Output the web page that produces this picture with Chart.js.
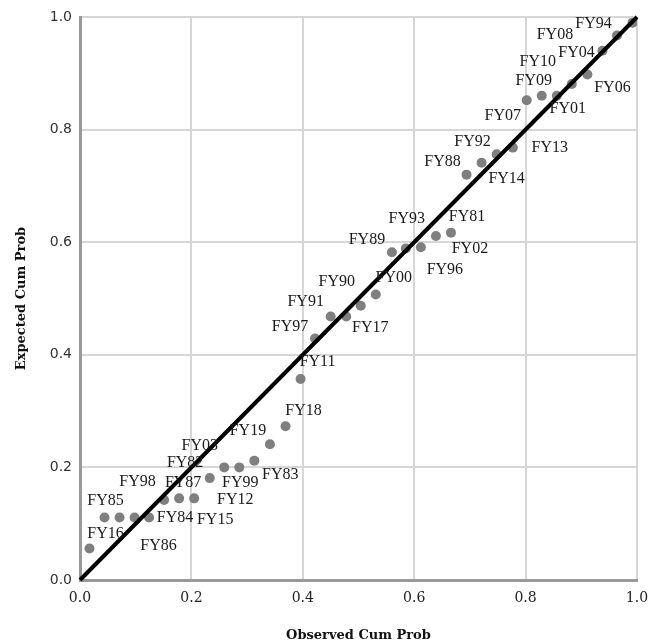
<!DOCTYPE html>
<html>
<head>
<meta charset="utf-8">
<script src="https://cdn.jsdelivr.net/npm/chart.js@4/dist/chart.umd.min.js"></script>
<style>
  html, body { margin: 0; padding: 0; background: #fff; }
  #wrap { width: 655px; height: 644px; }
</style>
</head>
<body>
<div id="wrap"><canvas id="ppChart" width="655" height="644"></canvas></div>
<script>
// P-P plot data
const yearLabels = ['FY16','FY85','FY98','FY86','FY84','FY87','FY82','FY15','FY03','FY12','FY99','FY83','FY19',
  'FY18','FY11','FY97','FY91','FY17','FY90','FY00','FY89','FY93','FY96','FY02','FY81','FY88','FY92','FY14',
  'FY13','FY07','FY09','FY01','FY10','FY06','FY04','FY08','FY94'];
const observed = [0.017,0.044,0.071,0.098,0.124,0.151,0.178,0.205,0.233,0.259,0.286,0.313,0.341,
  0.369,0.396,0.422,0.450,0.478,0.504,0.531,0.560,0.585,0.612,0.639,0.666,0.694,0.721,0.748,
  0.777,0.802,0.829,0.856,0.883,0.911,0.938,0.964,0.992];
const expected = [0.056,0.111,0.111,0.111,0.111,0.142,0.145,0.145,0.181,0.200,0.200,0.212,0.241,
  0.273,0.357,0.429,0.468,0.468,0.487,0.507,0.582,0.589,0.591,0.611,0.617,0.720,0.741,0.756,
  0.768,0.852,0.860,0.860,0.881,0.898,0.940,0.967,0.990];
const axisTicks = [0, 0.2, 0.4, 0.6, 0.8, 1.0];

// label nudges in px (label placement only, relative to each point)
const labelNudge = [[16,-15],[1,-17],[18,-36],[24,28],[26,0],[19,-17],[6,-36],[21,21],[-10,-32],[11,32],
  [1,15],[26,14],[-22,-14],[18,-16],[17,-17],[-25,-12],[-25,-15],[24,11],[-24,-24],[18,-17],
  [-25,-13],[1,-30],[24,23],[34,13],[16,-16],[-24,-13],[-9,-21],[10,24],[37,0],[-24,15],
  [-8,-15],[11,13],[-34,-22],[25,13],[-26,2],[-62,-1],[-39,1]];

const points = observed.map((v, i) => ({ x: v, y: expected[i] }));

const pointLabels = {
  id: 'pointLabels',
  afterDatasetsDraw(chart) {
    const ctx = chart.ctx;
    const meta = chart.getDatasetMeta(1);
    ctx.save();
    ctx.font = '16px "Liberation Serif", "Times New Roman", serif';
    ctx.fillStyle = '#1a1a1a';
    ctx.textAlign = 'center';
    ctx.textBaseline = 'middle';
    meta.data.forEach((pt, i) => {
      const n = labelNudge[i] || [0, 0];
      ctx.fillText(yearLabels[i], pt.x + n[0], pt.y + n[1]);
    });
    ctx.restore();
  }
};

const ctx = document.getElementById('ppChart').getContext('2d');
new Chart(ctx, {
  type: 'scatter',
  data: {
    datasets: [{
      type: 'line',
      data: [{ x: 0, y: 0 }, { x: 1, y: 1 }],
      borderColor: '#000',
      borderWidth: 4,
      pointRadius: 0,
      clip: false,
      order: 0
    }, {
      data: points,
      backgroundColor: '#7f7f7f',
      borderWidth: 0,
      pointRadius: 5,
      order: 1
    }]
  },
  options: {
    responsive: false,
    animation: false,
    layout: { padding: { left: 0, right: 18, top: 17, bottom: 0 } },
    plugins: { legend: { display: false }, tooltip: { enabled: false } },
    scales: {
      x: {
        type: 'linear', min: 0, max: 1,
        afterBuildTicks: s => { s.ticks = axisTicks.map(v => ({ value: v })); },
        afterFit: s => { s.height = 64; s.paddingLeft = 0; s.paddingRight = 0; },
        grid: { color: '#d6d6d6', lineWidth: 2, drawTicks: false },
        border: { color: '#999', width: 3 },
        ticks: {
          padding: 10, color: '#222',
          font: { family: '"DejaVu Serif", serif', size: 14 },
          callback: v => Number(v).toFixed(1)
        },
        title: {
          display: true, text: 'Observed Cum Prob', color: '#111',
          font: { family: '"DejaVu Serif", serif', size: 13, weight: 'bold' },
          padding: { top: 0, bottom: 1 }
        }
      },
      y: {
        type: 'linear', min: 0, max: 1,
        afterBuildTicks: s => { s.ticks = axisTicks.map(v => ({ value: v })); },
        afterFit: s => { s.width = 80; s.paddingTop = 0; s.paddingBottom = 0; },
        grid: { color: '#d6d6d6', lineWidth: 2, drawTicks: false },
        border: { color: '#999', width: 3 },
        ticks: {
          padding: 8, color: '#333',
          font: { family: '"DejaVu Sans", sans-serif', size: 14 },
          callback: v => Number(v).toFixed(1)
        },
        title: {
          display: true, text: 'Expected Cum Prob', color: '#111',
          font: { family: '"DejaVu Serif", serif', size: 13, weight: 'bold' },
          padding: { top: 14, bottom: 0 }
        }
      }
    }
  },
  plugins: [pointLabels]
});
</script>
</body>
</html>
